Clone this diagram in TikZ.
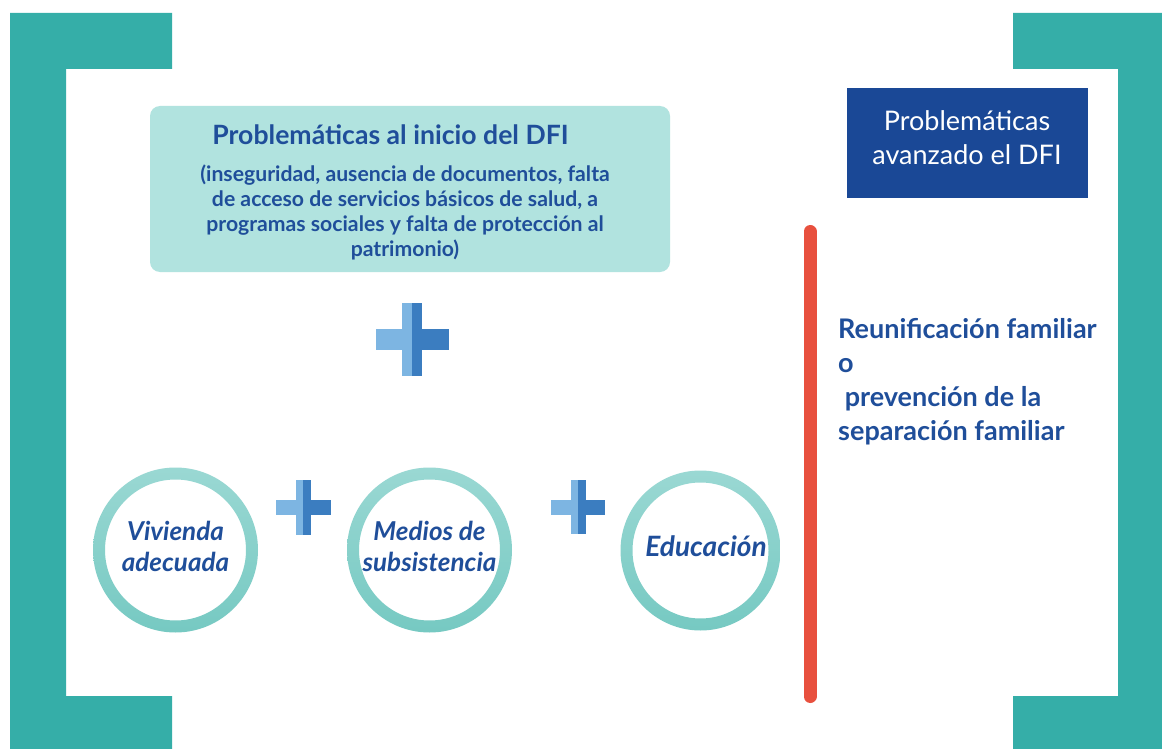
\documentclass[tikz,border=0pt]{standalone}
\usepackage{fontspec}
\setmainfont{Lato}
\definecolor{bracketteal}{HTML}{35AEA8}
\definecolor{boxfill}{HTML}{B1E3DF}
\definecolor{textblue}{HTML}{1F4E9A}
\definecolor{darkbox}{HTML}{1A4896}
\definecolor{pluslight}{HTML}{7DB5E2}
\definecolor{plusdark}{HTML}{3B7DC0}
\definecolor{ringtop}{HTML}{9AD8D3}
\definecolor{ringbot}{HTML}{76C9C2}
\definecolor{redline}{HTML}{E8503E}
\newcommand\plussign[4]{%
  \fill[pluslight] (#1-#3,#2-#4) rectangle (#1,#2+#4);
  \fill[pluslight] (#1-#4,#2-#3) rectangle (#1,#2+#3);
  \fill[plusdark] (#1,#2-#4) rectangle (#1+#3,#2+#4);
  \fill[plusdark] (#1,#2-#3) rectangle (#1+#4,#2+#3);}
\begin{document}
\begin{tikzpicture}[x=1pt,y=-1pt,
  bracket/.style={fill=bracketteal},
  bluetxt/.style={text=textblue, inner sep=0pt},
  circtxt/.style={text=textblue, inner sep=0pt, align=center,
    font=\fontsize{26}{31}\selectfont\bfseries\itshape},
  ring/.style={top color=ringtop, bottom color=ringbot, even odd rule, draw=none},
]
\useasboundingbox (0,0) rectangle (1162,749);
\fill[white] (0,0) rectangle (1162,749);
% brackets
\path[bracket] (10,13) -- (172,13) -- (172,69) -- (66,69) -- (66,696) -- (172,696) -- (172,749) -- (10,749) -- cycle;
\path[bracket] (1013,13) -- (1162,13) -- (1162,749) -- (1013,749) -- (1013,696) -- (1118,696) -- (1118,69) -- (1013,69) -- cycle;
% top box
\node[fill=boxfill, rounded corners=10pt, minimum width=520, minimum height=166, inner sep=0pt] (topbox) at (410,189) {};
\node[bluetxt, anchor=base, font=\fontsize{26.6}{30}\selectfont\bfseries] (title) at (390.5,145) {Problemáticas al inicio del DFI};
\node[bluetxt, align=center, font=\fontsize{21.2}{25}\selectfont\bfseries] (subtitle) at (405,212) {(inseguridad, ausencia de documentos, falta\\de acceso de servicios básicos de salud, a\\programas sociales y falta de protección al\\patrimonio)};
% right box
\node[fill=darkbox, minimum width=241, minimum height=110, inner sep=0pt] (rightbox) at (967.5,143) {};
\node[inner sep=0pt, text=white, align=center, font=\fontsize{27}{34}\selectfont] (righttitle) at (967,138) {Problemáticas\\avanzado el DFI};
% red line
\coordinate (rtop) at (810,231.5);
\coordinate (rbot) at (810,696.5);
\draw[redline, line width=13pt, line cap=round] (rtop) -- (rbot);
% right text
\node[bluetxt, anchor=north west, align=left, font=\fontsize{27}{34}\selectfont\bfseries] (result) at (838,318) {Reunificación familiar\\o\\\ prevención de la\\separación familiar};
% big plus
\plussign{412}{339.5}{36.5}{10.3}
% circles
\coordinate (c1) at (175.5,550);
\coordinate (c2) at (429.5,550);
\coordinate (c3) at (700.5,550.5);
\shade[ring] (c1) circle (82.5) (c1) circle (70.5);
\shade[ring] (c2) circle (82.5) (c2) circle (70.5);
\shade[ring] (c3) circle (80) (c3) circle (68);
\node[circtxt] (t1) at (175.5,546) {Vivienda\\adecuada};
\node[circtxt] (t2) at (429.5,546) {Medios de\\subsistencia};
\node[circtxt, font=\fontsize{28}{31}\selectfont\bfseries\itshape] (t3) at (706,546) {Educación};
% small plus signs
\plussign{303}{507}{27.5}{7.5}
\plussign{578}{507}{27}{7.5}
\end{tikzpicture}
\end{document}
